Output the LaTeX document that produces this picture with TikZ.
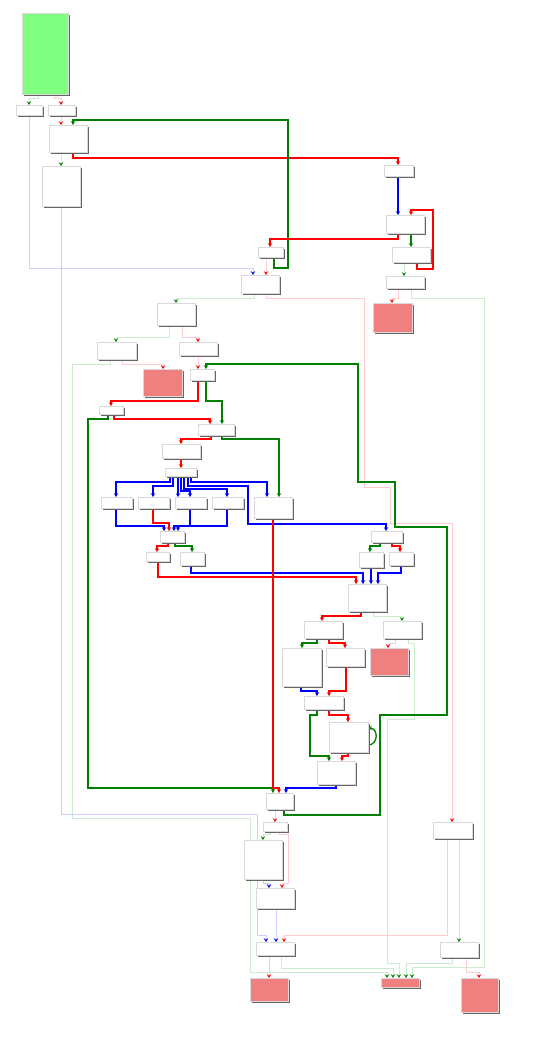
\documentclass[tikz,border=0pt]{standalone}
\usetikzlibrary{arrows.meta,shadows,backgrounds}
\definecolor{gfill}{RGB}{128,255,128}
\definecolor{rfill}{RGB}{240,128,128}
\definecolor{dg}{RGB}{0,128,0}
\definecolor{fb}{RGB}{205,205,255}
\definecolor{fg}{RGB}{205,235,205}
\definecolor{fr}{RGB}{255,205,205}
\tikzset{
  blk/.style={draw=black!15, line width=0.4pt, fill=white, inner sep=0pt, outer sep=0pt,
    drop shadow={shadow xshift=1.8pt, shadow yshift=-1.8pt, fill=black!60, opacity=1}},
  tipc/.style={-{Stealth[length=4pt,width=4.5pt,inset=1.8pt,color=#1]}},
  Tr/.style={draw=red, line width=1.3pt, rounded corners=0pt, tipc=red},
  Tg/.style={draw=dg, line width=1.3pt, tipc=dg},
  Tb/.style={draw=blue, line width=1.3pt, tipc=blue},
  Fr/.style={draw=fr, line width=0.7pt, tipc=red},
  Fg/.style={draw=fg, line width=0.7pt, tipc=dg},
  Fb/.style={draw=fb, line width=0.7pt, tipc=blue},
}
\newcommand\bk[6][white]{\node[blk,fill=#1,minimum width={#5-#3},minimum height={#6-#4}] (#2) at ({(#3+#5)/2},{(#4+#6)/2}) {};}
\begin{document}
\begin{tikzpicture}[x=1pt,y=-1pt]
\begin{pgfonlayer}{background}
\fill[white] (0,0) rectangle (557,1038);
\end{pgfonlayer}
\useasboundingbox (0,0) rectangle (557,1038);
% blocks
\bk[gfill]{N0}{22}{13}{68}{94}
\bk{N1}{16}{105}{42}{115}
\bk{N2}{48}{105}{75}{115}
\bk{N3}{49}{125}{87}{152}
\bk{N4}{42}{166}{80}{206}
\bk{N5}{258}{247}{283}{257}
\bk{N6}{241}{275}{279}{293}
\bk{N7}{384}{165}{413}{176}
\bk{N8}{386}{215}{424}{233}
\bk{N9}{392}{247}{430}{262}
\bk{N10}{386}{276}{424}{288}
\bk[rfill]{R1}{373}{303}{412}{332}
\bk{N11}{157}{303}{195}{325}
\bk{N12}{97}{342}{136}{359}
\bk{N13}{179}{342}{217}{355}
\bk[rfill]{R2}{143}{369}{182}{396}
\bk{N14}{190}{369}{214}{380}
\bk{N15}{99}{406}{123}{414}
\bk{N16}{198}{424}{234}{435}
\bk{N17}{162}{444}{200}{458}
\bk{N18}{165}{468}{196}{476}
\bk{N19a}{101}{497}{132}{508}
\bk{N19b}{138}{497}{169}{508}
\bk{N19c}{175}{497}{206}{508}
\bk{N19d}{212}{497}{243}{508}
\bk{N22}{254}{497}{292}{518}
\bk{N20}{160}{531}{184}{542}
\bk{N21a}{146}{552}{169}{561}
\bk{N21b}{180}{552}{204}{565}
\bk{N23}{371}{531}{402}{542}
\bk{N23a}{359}{552}{383}{567}
\bk{N23b}{389}{552}{413}{565}
\bk{N24}{348}{584}{386}{611}
\bk{N25}{304}{621}{342}{638}
\bk{N26}{383}{621}{421}{638}
\bk[rfill]{R3}{370}{648}{408}{675}
\bk{N27}{282}{648}{321}{686}
\bk{N28}{326}{648}{364}{666}
\bk{N29}{304}{696}{343}{709}
\bk{N30}{329}{722}{368}{752}
\bk{N31}{317}{761}{355}{784}
\bk{NB}{266}{793}{293}{809}
\bk{N32}{263}{822}{287}{831}
\bk{N33}{244}{840}{282}{879}
\bk{N34}{256}{888}{294}{908}
\bk{N37}{433}{822}{472}{838}
\bk{N36}{256}{942}{294}{955}
\bk{N38}{440}{942}{478}{957}
\bk[rfill]{R4}{250}{978}{288}{1001}
\bk[rfill]{R5}{381}{978}{419}{987}
\bk[rfill]{R6}{461}{978}{498}{1012}
\begin{pgfonlayer}{background}
% faint edges
\draw[Fg] (N0.south -| 38,0) -- (38,98) -- (29,98) -- (N1.north -| 29,0);
\draw[Fr] (N0.south -| 54,0) -- (54,98) -- (61,98) -- (N2.north -| 61,0);
\draw[Fr] (N2.south -| 61,0) -- (N3.north -| 61,0);
\draw[Fg] (N3.south -| 61,0) -- (N4.north -| 61,0);
\draw[Fb] (N1.south -| 29,0) -- (29,268) -- (253,268) -- (N6.north -| 253,0);
\draw[Fr] (N5.south -| 266,0) -- (N6.north -| 266,0);
\draw[Fg] (N9.south -| 404,0) -- (N10.north -| 404,0);
\draw[Fr] (N10.south -| 398,0) -- (398,298) -- (392,298) -- (R1.north -| 392,0);
\draw[Fg] (N10.south -| 411,0) -- (411,298) -- (484,298) -- (484,967) -- (412,967) -- (R5.north -| 412,0);
\draw[Fg] (N6.south -| 254,0) -- (254,298) -- (176,298) -- (N11.north -| 176,0);
\draw[Fr] (N6.south -| 266,0) -- (266,298) -- (364,298) -- (364,487) -- (390,487) -- (390,523) -- (452,523) -- (N37.north -| 452,0);
\draw[Fg] (N11.south -| 169,0) -- (169,337) -- (116,337) -- (N12.north -| 116,0);
\draw[Fr] (N11.south -| 182,0) -- (182,337) -- (198,337) -- (N13.north -| 198,0);
\draw[Fr] (N12.south -| 122,0) -- (122,364) -- (163,364) -- (R2.north -| 163,0);
\draw[Fg] (N12.south -| 110,0) -- (110,364) -- (72,364) -- (72,818) -- (250,818) -- (250,972) -- (387,972) -- (R5.north -| 387,0);
\draw[Fr] (N13.south -| 198,0) -- (N14.north -| 198,0);
\draw[Fg] (N24.south -| 373,0) -- (373,616) -- (402,616) -- (N26.north -| 402,0);
\draw[Fr] (N26.south -| 395,0) -- (395,643) -- (388,643) -- (R3.north -| 388,0);
\draw[Fg] (N26.south -| 408,0) -- (408,643) -- (414,643) -- (414,719) -- (387,719) -- (387,963) -- (399,963) -- (R5.north -| 399,0);
\draw[Fr] (NB.south -| 275,0) -- (N32.north -| 275,0);
\draw[Fg] (N32.south -| 270,0) -- (270,834) -- (263,834) -- (N33.north -| 263,0);
\draw[Fr] (N32.south -| 279,0) -- (279,834) -- (288,834) -- (288,883) -- (282,883) -- (N34.north -| 282,0);
\draw[Fb] (N33.south -| 263,0) -- (263,883) -- (269,883) -- (N34.north -| 269,0);
\draw[Fb] (N4.south -| 61,0) -- (61,814) -- (257,814) -- (257,935) -- (266,935) -- (N36.north -| 266,0);
\draw[Fb] (N34.south -| 276,0) -- (N36.north -| 276,0);
\draw[Fr] (N37.south -| 447,0) -- (447,935) -- (284,935) -- (N36.north -| 284,0);
\draw[Fg] (N37.south -| 459,0) -- (N38.north -| 459,0);
\draw[Fr] (N36.south -| 269,0) -- (R4.north -| 269,0);
\draw[Fg] (N36.south -| 281,0) -- (281,968) -- (393,968) -- (R5.north -| 393,0);
\draw[Fg] (N38.south -| 452,0) -- (452,963) -- (406,963) -- (R5.north -| 406,0);
\draw[Fr] (N38.south -| 466,0) -- (466,972) -- (479,972) -- (R6.north -| 479,0);
% thick edges
\draw[Tr] (N3.south -| 73,0) -- (73,158) -- (398,158) -- (N7.north -| 398,0);
\draw[Tg] (N5.south -| 274,0) -- (274,268) -- (288,268) -- (288,120) -- (73,120) -- (N3.north -| 73,0);
\draw[Tb] (N7.south -| 398,0) -- (N8.north -| 398,0);
\draw[Tr] (N8.south -| 398,0) -- (398,239) -- (270,239) -- (N5.north -| 270,0);
\draw[Tg] (N8.south -| 411,0) -- (N9.north -| 411,0);
\draw[Tr] (N9.south -| 417,0) -- (417,269) -- (433,269) -- (433,210) -- (411,210) -- (N8.north -| 411,0);
\draw[Tg] (NB.south -| 284,0) -- (284,815) -- (380,815) -- (380,715) -- (447,715) -- (447,527) -- (395,527) -- (395,482) -- (358,482) -- (358,364) -- (206,364) -- (N14.north -| 206,0);
\draw[Tr] (N14.south -| 198,0) -- (198,401) -- (111,401) -- (N15.north -| 111,0);
\draw[Tg] (N14.south -| 206,0) -- (206,401) -- (222,401) -- (N16.north -| 222,0);
\draw[Tr] (N15.south -| 114,0) -- (114,419) -- (210,419) -- (N16.north -| 210,0);
\draw[Tg] (N15.south -| 108,0) -- (108,419) -- (88,419) -- (88,788) -- (273,788) -- (NB.north -| 273,0);
\draw[Tr] (N16.south -| 211,0) -- (211,439) -- (181,439) -- (N17.north -| 181,0);
\draw[Tg] (N16.south -| 222,0) -- (222,439) -- (279,439) -- (N22.north -| 279,0);
\draw[Tr] (N17.south -| 181,0) -- (N18.north -| 181,0);
\draw[Tb] (N18.south -| 170,0) -- (170,482) -- (116,482) -- (N19a.north -| 116,0);
\draw[Tb] (N18.south -| 173,0) -- (173,486) -- (153,486) -- (N19b.north -| 153,0);
\draw[Tb] (N18.south -| 178,0) -- (N19c.north -| 178,0);
\draw[Tb] (N18.south -| 181,0) -- (181,491) -- (190,491) -- (N19c.north -| 190,0);
\draw[Tb] (N18.south -| 184,0) -- (184,489) -- (227,489) -- (N19d.north -| 227,0);
\draw[Tb] (N18.south -| 188,0) -- (188,486) -- (248,486) -- (248,524) -- (386,524) -- (N23.north -| 386,0);
\draw[Tb] (N18.south -| 191,0) -- (191,482) -- (267,482) -- (N22.north -| 267,0);
\draw[Tb] (N19a.south -| 116,0) -- (116,526) -- (164,526) -- (N20.north -| 164,0);
\draw[Tr] (N19b.south -| 153,0) -- (153,523) -- (169,523) -- (N20.north -| 169,0);
\draw[Tb] (N19c.south -| 190,0) -- (190,526) -- (174,526) -- (N20.north -| 174,0);
\draw[Tb] (N19d.south -| 227,0) -- (227,526) -- (178,526) -- (N20.north -| 178,0);
\draw[Tr] (N20.south -| 168,0) -- (168,546) -- (157,546) -- (N21a.north -| 157,0);
\draw[Tg] (N20.south -| 175,0) -- (175,546) -- (192,546) -- (N21b.north -| 192,0);
\draw[Tr] (N21a.south -| 158,0) -- (158,577) -- (356,577) -- (N24.north -| 356,0);
\draw[Tb] (N21b.south -| 191,0) -- (191,573) -- (363,573) -- (N24.north -| 363,0);
\draw[Tr] (N22.south -| 273,0) -- (273,788) -- (279,788) -- (NB.north -| 279,0);
\draw[Tg] (N23.south -| 380,0) -- (380,546) -- (370,546) -- (N23a.north -| 370,0);
\draw[Tr] (N23.south -| 392,0) -- (392,546) -- (400,546) -- (N23b.north -| 400,0);
\draw[Tb] (N23a.south -| 371,0) -- (N24.north -| 371,0);
\draw[Tb] (N23b.south -| 401,0) -- (401,573) -- (378,573) -- (N24.north -| 378,0);
\draw[Tr] (N24.south -| 361,0) -- (361,616) -- (322,616) -- (N25.north -| 322,0);
\draw[Tg] (N25.south -| 317,0) -- (317,643) -- (302,643) -- (N27.north -| 302,0);
\draw[Tr] (N25.south -| 329,0) -- (329,643) -- (345,643) -- (N28.north -| 345,0);
\draw[Tb] (N27.south -| 301,0) -- (301,691) -- (317,691) -- (N29.north -| 317,0);
\draw[Tr] (N28.south -| 346,0) -- (346,691) -- (329,691) -- (N29.north -| 329,0);
\draw[Tg] (N29.south -| 317,0) -- (317,715) -- (310,715) -- (310,756) -- (329,756) -- (N31.north -| 329,0);
\draw[Tr] (N29.south -| 329,0) -- (329,715) -- (348,715) -- (N30.north -| 348,0);
\draw[Tg] (N30.east |- 0,745) to[out=0,in=0,looseness=1.6] (N30.east |- 0,728);
\draw[Tr] (N30.south -| 348,0) -- (348,756) -- (342,756) -- (N31.north -| 342,0);
\draw[Tb] (N31.south -| 336,0) -- (336,788) -- (286,788) -- (NB.north -| 286,0);
\end{pgfonlayer}
\end{tikzpicture}
\end{document}
